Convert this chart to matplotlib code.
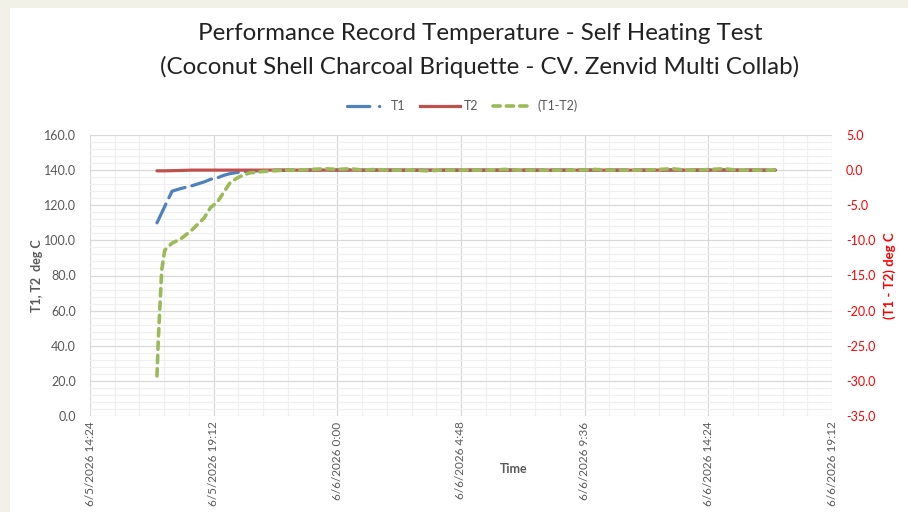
import matplotlib
matplotlib.use("Agg")
import matplotlib.pyplot as plt
import matplotlib.dates as mdates
from matplotlib.ticker import MultipleLocator, FuncFormatter
from matplotlib.lines import Line2D
from matplotlib.patches import Rectangle
import pandas as pd

plt.rcParams['font.family'] = ['Lato', 'DejaVu Sans']

# readings (6/5 17:00 -> 6/6 17:00)
times = ["2026-06-05 17:00", "2026-06-05 17:03", "2026-06-05 17:07", "2026-06-05 17:11",
         "2026-06-05 17:18", "2026-06-05 17:35", "2026-06-05 17:55", "2026-06-05 18:20",
         "2026-06-05 18:50", "2026-06-05 19:05", "2026-06-05 19:20", "2026-06-05 19:35",
         "2026-06-05 19:50", "2026-06-05 20:10", "2026-06-05 20:35", "2026-06-05 21:05"]
# then every 30 min from 21:30 to 17:00 next day
times += list(pd.date_range("2026-06-05 21:30", "2026-06-06 17:00", freq="30min").strftime("%Y-%m-%d %H:%M"))

t1 = [110.0, 111.5, 113.6, 115.7, 119.3, 128.0, 129.5, 131.0,
      133.3, 134.8, 135.5, 137.0, 138.0, 138.8, 139.4, 139.7,
      139.9, 140.0, 140.0, 140.1, 140.2, 140.1, 140.2, 140.0, 140.1, 140.0,
      140.0, 140.0, 139.9, 140.0, 140.0, 140.0, 140.0, 140.0, 140.1, 140.0,
      140.0, 140.0, 140.0, 140.0, 140.0, 140.1, 140.0, 140.0, 140.0, 140.0,
      140.1, 140.2, 140.0, 140.0, 140.1, 140.2, 140.0, 140.0, 140.0, 140.0]
t2 = [139.6, 139.6, 139.6, 139.6, 139.6, 139.7, 139.8, 140.0,
      140.0, 140.0, 140.0, 140.0, 140.0, 140.0, 140.0, 140.0,
      140.0, 140.0, 140.0, 140.0, 140.0, 140.0, 140.0, 140.0, 140.0, 140.0,
      140.0, 140.0, 140.0, 140.0, 140.0, 140.0, 140.0, 140.0, 140.0, 140.0,
      140.0, 140.0, 140.0, 140.0, 140.0, 140.0, 140.0, 140.0, 140.0, 140.0,
      140.0, 140.0, 140.0, 140.0, 140.0, 140.0, 140.0, 140.0, 140.0, 140.0]
diff = [-29.3, -24.2, -19.2, -14.2, -11.4, -10.4, -9.8, -8.6,
        -6.8, -5.3, -4.6, -3.2, -1.8, -1.0, -0.4, -0.2,
        -0.1, 0.0, 0.0, 0.1, 0.2, 0.1, 0.2, 0.0, 0.1, 0.0,
        0.0, 0.0, -0.1, 0.0, 0.0, 0.0, 0.0, 0.0, 0.1, 0.0,
        0.0, 0.0, 0.0, 0.0, 0.0, 0.1, 0.0, 0.0, 0.0, 0.0,
        0.1, 0.2, 0.0, 0.0, 0.1, 0.2, 0.0, 0.0, 0.0, 0.0]

x = pd.to_datetime(times, format="%Y-%m-%d %H:%M")

blue, red, green = "#4f81bd", "#c0504d", "#9bbb59"
gray = "#595959"

fig = plt.figure(figsize=(9.08, 5.12), dpi=100, facecolor="#f2f1e8")
fig.patches.append(Rectangle((10 / 908, 0), 1, 1 - 8 / 512, transform=fig.transFigure,
                             facecolor="white", edgecolor="none", zorder=-5))

ax = fig.add_axes([90 / 908, 1 - 416 / 512, 742 / 908, 281 / 512])
ax.set_facecolor("white")
ax2 = ax.twinx()

ax.plot(x, t1, color=blue, lw=2.3, dashes=(6.5, 2.2), dash_capstyle="round")
ax.plot(x, t2, color=red, lw=2.3, solid_capstyle="round")
ax2.plot(x, diff, color=green, lw=2.6, dashes=(2.0, 1.7), dash_capstyle="round")

ax.set_xlim(pd.Timestamp("2026-06-05 14:24"), pd.Timestamp("2026-06-06 19:12"))
ax.set_ylim(0, 160)
ax2.set_ylim(-35, 5)

ax.xaxis.set_major_locator(MultipleLocator(0.2))
ax.xaxis.set_minor_locator(MultipleLocator(0.04))
ax.yaxis.set_major_locator(MultipleLocator(20))
ax.yaxis.set_minor_locator(MultipleLocator(4))
ax2.yaxis.set_major_locator(MultipleLocator(5))


def date_fmt(v, pos):
    d = mdates.num2date(v + 1e-7)
    return f"{d.month}/{d.day}/{d.year} {d.hour}:{d.minute:02d}"


ax.xaxis.set_major_formatter(FuncFormatter(date_fmt))
ax.yaxis.set_major_formatter(FuncFormatter(lambda v, p: f"{v:.1f}"))
ax2.yaxis.set_major_formatter(FuncFormatter(lambda v, p: f"{v:.1f}"))

ax.grid(which="major", color="#d9d9d9", lw=0.9)
ax.grid(which="minor", color="#f0f0f0", lw=0.9)
ax.set_axisbelow(True)
for a in (ax, ax2):
    for s in a.spines.values():
        s.set_visible(False)

ax.tick_params(axis="x", which="both", length=0, labelsize=8.5, labelcolor=gray,
               labelrotation=90, pad=4)
ax.tick_params(axis="y", which="both", length=0, labelsize=9, labelcolor=gray, pad=10)
ax2.tick_params(axis="y", length=0, labelsize=9, labelcolor="#ff0000", pad=10)

ax.set_ylabel("T1, T2  deg C", fontsize=9, fontweight="bold", color=gray, labelpad=1)
ax2.set_ylabel("(T1 - T2) deg C", fontsize=9.5, fontweight="bold", color="#ff0000", labelpad=6)
fig.text(514 / 908, 1 - 469 / 512, "Time", ha="center", va="center",
         fontsize=9, fontweight="bold", color=gray)

fig.text(480 / 908, 1 - 33 / 512, "Performance Record Temperature - Self Heating Test",
         ha="center", va="center", fontsize=17.4, color="#222222")
fig.text(480 / 908, 1 - 67 / 512, "(Coconut Shell Charcoal Briquette - CV. Zenvid Multi Collab)",
         ha="center", va="center", fontsize=17.4, color="#222222")

handles = [Line2D([], [], color=blue, lw=2.3, dashes=(7, 3, 0.1, 3), dash_capstyle="round"),
           Line2D([], [], color=red, lw=2.3),
           Line2D([], [], color=green, lw=2.6, dashes=(2.0, 1.7), dash_capstyle="round")]
fig.legend(handles, ["T1", "T2", "(T1-T2)"], loc="center", ncol=3,
           bbox_to_anchor=(462 / 908, 1 - 106 / 512), frameon=False, fontsize=9,
           labelcolor=gray, handlelength=3.2, handletextpad=0.3, columnspacing=1.2)

fig.savefig("out.png", dpi=100, facecolor=fig.get_facecolor())
